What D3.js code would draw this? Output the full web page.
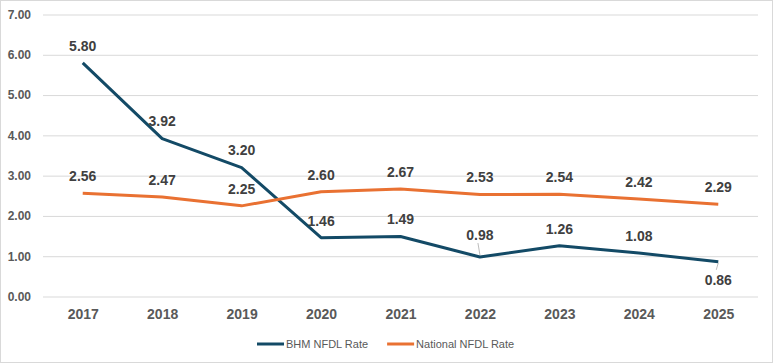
<!DOCTYPE html>
<html>
<head>
<meta charset="utf-8">
<script src="https://cdn.jsdelivr.net/npm/d3@7"></script>
<style>
  body { margin: 0; background: #fff; }
  svg { display: block; }
</style>
</head>
<body>
<script>
// chart data
var years = ['2017', '2018', '2019', '2020', '2021', '2022', '2023', '2024', '2025'];
var bhmRate = [5.80, 3.92, 3.20, 1.46, 1.49, 0.98, 1.26, 1.08, 0.86];
var nationalRate = [2.56, 2.47, 2.25, 2.60, 2.67, 2.53, 2.54, 2.42, 2.29];
var yTicks = [0, 1, 2, 3, 4, 5, 6, 7];

var width = 774,
	height = 364;

var series = [
	{ name: 'BHM NFDL Rate', values: bhmRate, color: '#134A66' },
	{ name: 'National NFDL Rate', values: nationalRate, color: '#E97132' }
];

// labels that Excel moved off the point (these get a leader line)
var nudge = { 'BHM NFDL Rate': { 5: -22, 8: 18 } };

var svg = d3.select('body')
	.append('svg')
	.attr('width', width)
	.attr('height', height);

// outer chart border
svg.append('rect')
	.attr('x', 0.5).attr('y', 0.5)
	.attr('width', 772).attr('height', 362)
	.attr('fill', '#fff')
	.attr('stroke', '#d9d9d9');

var x = d3.scalePoint()
	.domain(years)
	.range([43, 758])
	.padding(0.5);

var y = d3.scaleLinear()
	.domain([0, 7])
	.range([296.5, 14.5]);

// gridlines + y labels
var yAxis = svg.append('g')
	.attr('transform', 'translate(43,0)')
	.call(d3.axisLeft(y).tickValues(yTicks).tickSize(-715).tickPadding(12)
		.tickFormat(d3.format('.2f')));
yAxis.select('.domain').remove();
yAxis.selectAll('line').attr('stroke', '#d9d9d9').attr('stroke-width', 1);
yAxis.selectAll('text')
	.attr('fill', '#595959')
	.style('font', 'bold 12px "Liberation Sans", Arial, sans-serif');

// x labels
var xAxis = svg.append('g')
	.attr('transform', 'translate(0,296.5)')
	.call(d3.axisBottom(x).tickSize(0).tickPadding(13));
xAxis.select('.domain').remove();
xAxis.selectAll('text')
	.attr('fill', '#595959')
	.style('font', 'bold 14px "Liberation Sans", Arial, sans-serif');

var line = d3.line()
	.x(function(d, i) { return x(years[i]); })
	.y(function(d) { return y(d); });

// draw lines
svg.selectAll('.series')
	.data(series)
	.enter().append('path')
	.attr('class', 'series')
	.attr('d', function(d) { return line(d.values); })
	.attr('fill', 'none')
	.attr('stroke', function(d) { return d.color; })
	.attr('stroke-width', 3)
	.attr('stroke-linejoin', 'round');

// data labels
series.forEach(function(s) {
	var adj = nudge[s.name] || {};
	s.values.forEach(function(v, i) {
		var px = x(years[i]), py = y(v);
		var moved = adj[i] !== undefined;
		var dy = moved ? adj[i] : -17;
		if (moved) {
			// leader line from label to point
			var above = dy < 0;
			svg.append('line')
				.attr('x1', px - 2).attr('y1', py + dy + (above ? 8 : -10))
				.attr('x2', px).attr('y2', py + (above ? -2 : 1))
				.attr('stroke', '#a6a6a6')
				.attr('stroke-width', 0.75);
		}
		svg.append('text')
			.attr('x', px)
			.attr('y', py + dy)
			.attr('dy', '0.35em')
			.attr('text-anchor', 'middle')
			.attr('fill', '#404040')
			.style('font', 'bold 14px "Liberation Sans", Arial, sans-serif')
			.text(v.toFixed(2));
	});
});

// legend
var legend = svg.append('g')
	.attr('transform', 'translate(257,344)');
var lx = 0;
series.forEach(function(s) {
	legend.append('line')
		.attr('x1', lx).attr('x2', lx + 27)
		.attr('y1', 0).attr('y2', 0)
		.attr('stroke', s.color)
		.attr('stroke-width', 3);
	var t = legend.append('text')
		.attr('x', lx + 29)
		.attr('y', 0)
		.attr('dy', '0.35em')
		.attr('fill', '#595959')
		.style('font', '11px "Liberation Sans", Arial, sans-serif')
		.text(s.name);
	lx += 29 + t.node().getComputedTextLength() + 19;
});
</script>
</body>
</html>
